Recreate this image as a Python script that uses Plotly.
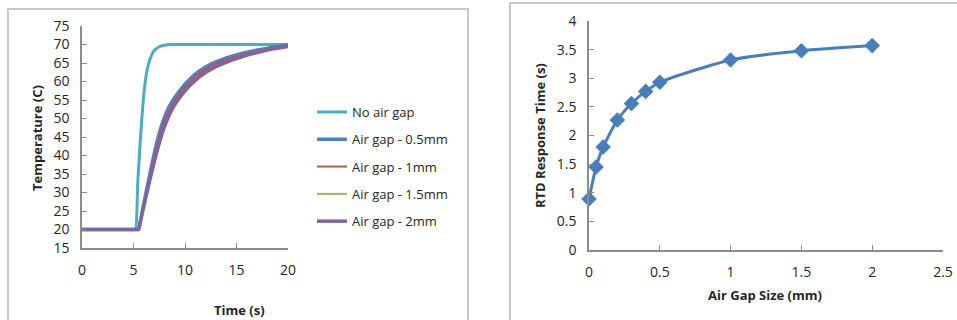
import plotly.graph_objects as go

# ---------------- data: left chart (temperature response) ----------------
time_s = [0, 5.0, 5.2, 5.4, 5.5, 5.6, 5.8, 6.0, 6.3, 6.6, 7.0, 7.5, 8.0, 8.5, 9,
          10, 11, 12, 13, 14, 15, 16, 17, 18, 19, 20]
no_air_gap = [20, 20, 20, 32.0, 36.8, 41.5, 49.5, 56.5, 62.8, 66.0, 68.3, 69.4, 69.8, 70, 70,
              70, 70, 70, 70, 70, 70, 70, 70, 70, 70, 70]
gap_05mm = [20, 20, 20, 20, 20, 21.4, 24.2, 27.0, 31.1, 35.2, 40.4, 46.0, 50.3, 53.4, 55.7,
            59.3, 62.0, 63.9, 65.3, 66.4, 67.2, 67.9, 68.5, 69.0, 69.5, 69.9]
gap_1mm = [20, 20, 20, 20, 20, 21.3, 24.0, 26.6, 30.5, 34.3, 39.3, 44.7, 49.0, 52.3, 54.7,
           58.4, 61.2, 63.2, 64.7, 65.8, 66.7, 67.5, 68.2, 68.8, 69.3, 69.7]
gap_15mm = [20, 20, 20, 20, 20, 21.2, 23.8, 26.4, 30.2, 33.9, 38.7, 44.0, 48.4, 51.7, 54.2,
            58.0, 60.7, 62.8, 64.3, 65.5, 66.5, 67.3, 68.0, 68.6, 69.1, 69.6]
gap_2mm = [20, 20, 20, 20, 20, 21.2, 23.7, 26.2, 29.9, 33.5, 38.1, 43.3, 47.7, 51.1, 53.7,
           57.5, 60.3, 62.4, 64.0, 65.2, 66.2, 67.1, 67.8, 68.5, 69.0, 69.5]
series_names = ["No air gap", "Air gap - 0.5mm", "Air gap - 1mm", "Air gap - 1.5mm", "Air gap - 2mm"]

# ---------------- data: right chart (response time vs gap) ----------------
gap_size_mm = [0, 0.05, 0.1, 0.2, 0.3, 0.4, 0.5, 1.0, 1.5, 2.0]
response_time_s = [0.89, 1.45, 1.80, 2.27, 2.56, 2.77, 2.93, 3.32, 3.48, 3.57]

left_ticks_y = [15, 20, 25, 30, 35, 40, 45, 50, 55, 60, 65, 70, 75]
left_ticks_x = [0, 5, 10, 15, 20]
right_ticks_y = [0, 0.5, 1, 1.5, 2, 2.5, 3, 3.5, 4]
right_ticks_x = [0, 0.5, 1, 1.5, 2, 2.5]

W, H = 957, 320
FONT = "Open Sans"
TXT = "#262626"
AX = "#8c8c8c"

fig = go.Figure()

colors = ["#4BACC6", "#4F81BD", "#C0504D", "#9BBB59", "#8064A2"]
widths = [3, 3.5, 2, 2, 3.5]
ys = [no_air_gap, gap_05mm, gap_1mm, gap_15mm, gap_2mm]
order = [0, 1, 3, 2, 4]
for i in order:
    fig.add_trace(go.Scatter(
        x=time_s, y=ys[i], mode="lines", name=series_names[i],
        line=dict(color=colors[i], width=widths[i], shape="spline", smoothing=0.5),
        legendgroup=str(i), legendrank=i + 1,
        xaxis="x", yaxis="y", showlegend=True,
    ))

fig.add_trace(go.Scatter(
    x=gap_size_mm, y=response_time_s, mode="lines+markers",
    line=dict(color="#4A7EBB", width=3, shape="spline", smoothing=0.6),
    marker=dict(symbol="diamond", size=12, color="#4A7EBB"),
    xaxis="x2", yaxis="y2", showlegend=False, cliponaxis=False,
))

def px_x(p):
    return p / W

def px_y(p):
    return 1 - p / H

axis_common = dict(
    showgrid=False, zeroline=False, showline=True, linecolor=AX, linewidth=1.5,
    ticks="inside", ticklen=5, tickcolor=AX, tickwidth=1.2, automargin=False,
    tickfont=dict(family=FONT, size=14, color=TXT), fixedrange=True,
)

fig.update_layout(
    width=W, height=H, autosize=False,
    margin=dict(l=0, r=0, t=0, b=0, pad=0, autoexpand=False),
    paper_bgcolor="white", plot_bgcolor="white",
    xaxis=dict(domain=[px_x(82), px_x(288)], range=[0, 20], tickvals=left_ticks_x,
               anchor="y", ticklabelstandoff=8, **axis_common),
    yaxis=dict(domain=[px_y(248), px_y(26)], range=[15, 75], tickvals=left_ticks_y,
               anchor="x", ticklabelstandoff=8, **axis_common),
    xaxis2=dict(domain=[px_x(589), px_x(943)], range=[0, 2.5], tickvals=right_ticks_x,
                anchor="y2", ticklabelstandoff=8, **axis_common),
    yaxis2=dict(domain=[px_y(250), px_y(21)], range=[0, 4], tickvals=right_ticks_y,
                anchor="x2", ticklabelstandoff=8, **axis_common),
    legend=dict(x=px_x(312), y=px_y(97), xanchor="left", yanchor="top",
                font=dict(family=FONT, size=13, color=TXT),
                traceorder="grouped", tracegroupgap=7.4, itemwidth=30,
                bgcolor="rgba(0,0,0,0)"),
    showlegend=True,
    shapes=[
        dict(type="rect", xref="paper", yref="paper",
             x0=px_x(8), x1=px_x(468), y0=px_y(330), y1=px_y(9),
             line=dict(color="#c8c8c8", width=2), layer="below"),
        dict(type="rect", xref="paper", yref="paper",
             x0=px_x(510), x1=px_x(970), y0=px_y(330), y1=px_y(3),
             line=dict(color="#c8c8c8", width=2), layer="below"),
    ],
    annotations=[
        dict(text="<b>Temperature (C)</b>", xref="paper", yref="paper",
             x=px_x(37), y=px_y(138), textangle=-90, showarrow=False,
             xanchor="center", yanchor="middle",
             font=dict(family=FONT, size=13, color=TXT)),
        dict(text="<b>Time (s)</b>", xref="paper", yref="paper",
             x=px_x(240), y=px_y(310), showarrow=False,
             xanchor="center", yanchor="middle",
             font=dict(family=FONT, size=13, color=TXT)),
        dict(text="<b>RTD Response Time (s)</b>", xref="paper", yref="paper",
             x=px_x(540), y=px_y(136), textangle=-90, showarrow=False,
             xanchor="center", yanchor="middle",
             font=dict(family=FONT, size=13, color=TXT)),
        dict(text="<b>Air Gap Size (mm)</b>", xref="paper", yref="paper",
             x=px_x(765), y=px_y(295), showarrow=False,
             xanchor="center", yanchor="middle",
             font=dict(family=FONT, size=13, color=TXT)),
    ],
)

fig.write_html(
    "out.html",
    config={"displayModeBar": False, "responsive": False},
    post_script="document.body.style.margin='0';document.body.style.overflow='hidden';",
)
